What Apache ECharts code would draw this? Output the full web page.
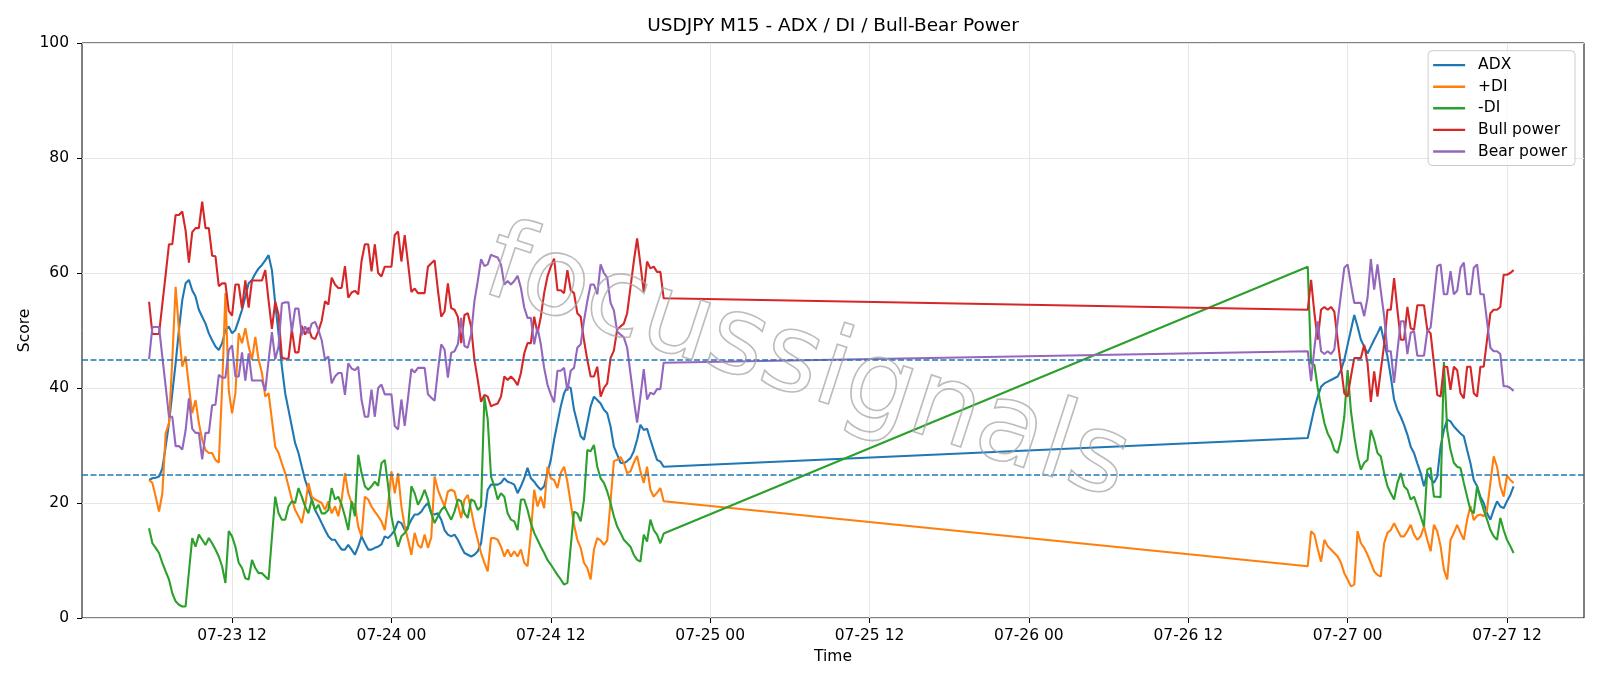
<!DOCTYPE html>
<html lang="en">
<head>
<meta charset="UTF-8" />
<title>USDJPY M15 - ADX / DI / Bull-Bear Power</title>
<style>
  html, body { margin: 0; padding: 0; background: #fff; }
  #main { width: 1600px; height: 686px; }
</style>
</head>
<body>
<div id="main"></div>
<script src="https://cdn.jsdelivr.net/npm/echarts@6/dist/echarts.min.js"></script>
<script>
// M15 bars, two blocks (weekend gap in between): [y, m(0-based), d, h, min]
var segStarts = [[2020, 6, 23, 5, 45], [2020, 6, 26, 21, 0]];
var segLengths = [156, 63];

var adx = [
  24.0, 24.3, 24.4, 24.6, 26.0, 29.8, 33.9, 39.1, 44.3, 50.1,
  55.3, 58.2, 58.8, 57.0, 55.9, 53.6, 52.4, 51.2, 49.5, 48.3,
  47.2, 46.6, 47.8, 50.1, 50.7, 49.5, 50.1, 51.8, 53.6, 55.9,
  58.2, 58.8, 59.9, 60.8, 61.4, 62.2, 63.1, 60.5, 54.7, 49.5,
  43.7, 39.1, 36.2, 33.3, 30.4, 28.7, 26.3, 24.0, 22.3, 20.6,
  18.8, 17.7, 16.5, 15.3, 14.2, 13.6, 13.6, 12.7, 11.9, 11.9,
  12.7, 11.9, 11.0, 12.4, 14.2, 13.0, 11.9, 11.9, 12.2, 12.4,
  12.8, 14.2, 13.9, 14.5, 15.3, 16.8, 16.5, 15.3, 15.9, 17.1,
  18.0, 18.0, 18.5, 19.4, 20.0, 18.2, 18.0, 18.2, 17.1, 15.3,
  14.5, 14.2, 14.5, 13.6, 12.4, 11.3, 11.0, 10.7, 11.0, 11.6,
  13.0, 17.7, 22.3, 23.2, 23.2, 23.2, 23.5, 24.3, 23.7, 23.5,
  23.2, 21.7, 22.9, 24.3, 26.1, 24.3, 23.7, 22.9, 22.3, 22.9,
  25.2, 27.5, 31.0, 33.9, 36.8, 39.1, 40.2, 40.0, 36.2, 33.9,
  31.6, 31.0, 33.9, 36.8, 38.5, 37.9, 37.3, 36.2, 35.6, 33.3,
  29.8, 28.4, 27.0, 26.9, 27.3, 27.8, 29.0, 31.0, 33.6, 32.7,
  32.9, 31.0, 29.2, 27.5, 27.2, 26.3,
  31.3, 33.9, 36.5, 38.5, 40.2, 40.8, 41.1, 41.4, 41.7, 42.0,
  43.1, 44.9, 47.5, 50.1, 52.7, 50.7, 48.4, 47.2, 46.0,
  47.2, 48.4, 49.5, 50.7, 48.0, 45.5, 42.0, 38.0, 36.2, 35.0,
  33.6, 31.9, 29.8, 28.7, 26.9, 25.2, 22.9, 25.2, 24.3, 23.5,
  24.6, 29.8, 32.7, 34.5, 34.2, 33.3, 32.7, 32.1, 31.6, 29.2,
  26.9, 24.0, 22.9, 21.1, 20.0, 18.2, 17.1, 18.8, 20.3, 19.4,
  19.1, 20.3, 21.4, 22.9
];

var plusDI = [
  24.0, 23.5, 21.1, 18.5, 21.7, 32.1, 33.9, 44.9, 57.6, 50.1,
  43.7, 45.5, 40.3, 35.6, 37.9, 33.9, 31.0, 29.2, 28.7, 28.7,
  27.5, 27.0, 40.0, 56.5, 39.6, 35.6, 39.1, 49.5, 47.8, 50.4,
  47.2, 44.9, 48.9, 44.9, 42.6, 38.5, 39.1, 34.5, 29.8, 28.7,
  26.9, 25.2, 22.9, 20.6, 18.8, 17.7, 16.5, 19.4, 23.5, 21.1,
  20.6, 20.3, 20.0, 18.8, 20.3, 18.2, 19.4, 17.7, 20.6, 25.2,
  21.7, 20.0, 19.7, 15.9, 14.2, 21.1, 20.6, 19.4, 18.5, 17.7,
  16.8, 15.3, 19.7, 25.5, 21.7, 25.2, 19.4, 15.9, 13.6, 11.0,
  14.8, 12.7, 12.2, 14.5, 12.2, 14.0, 24.6, 22.3, 20.8, 19.4,
  22.0, 22.3, 22.0, 19.7, 17.4, 20.6, 21.4, 18.8, 15.9, 13.6,
  11.3, 9.6, 8.1, 13.9, 13.9, 13.6, 12.4, 10.7, 11.9, 10.7,
  11.6, 10.7, 11.9, 9.6, 9.0, 14.8, 22.3, 19.4, 21.1, 19.1,
  26.3, 24.3, 24.0, 22.6, 25.2, 26.3, 23.7, 20.0, 16.2, 13.6,
  12.2, 9.6, 8.7, 6.7, 11.9, 13.9, 13.5, 12.7, 13.5, 20.3,
  27.3, 27.5, 28.0, 27.0, 25.2, 25.5, 27.0, 28.2, 25.5, 23.5,
  26.3, 22.3, 21.1, 21.8, 22.6, 20.3,
  9.0, 15.1, 14.5, 12.0, 9.8, 13.6, 12.5, 11.9, 11.3, 10.7,
  9.6, 7.8, 6.7, 5.5, 5.8, 15.1, 13.0, 12.2, 11.0, 9.6,
  8.1, 7.5, 7.2, 13.0, 14.8, 15.3, 16.5, 15.3, 14.2, 14.2,
  15.1, 16.2, 14.5, 13.6, 14.2, 15.9, 13.6, 11.6, 16.2, 15.1,
  12.5, 8.4, 6.7, 13.6, 14.8, 16.2, 14.8, 13.6, 17.1, 19.5,
  17.0, 17.8, 18.0, 17.7, 18.8, 23.5, 28.1, 26.3, 22.9, 21.1,
  24.8, 24.0, 23.5
];

var minusDI = [
  15.6, 13.0, 12.2, 11.3, 9.6, 8.1, 6.7, 4.3, 2.9, 2.3,
  2.0, 2.0, 8.0, 13.9, 12.4, 14.5, 13.6, 12.7, 13.9, 13.0,
  11.9, 10.7, 9.0, 6.1, 15.1, 14.2, 12.4, 9.6, 8.7, 6.9,
  6.7, 10.1, 8.7, 7.8, 7.8, 7.2, 6.7, 14.0, 21.1, 18.2,
  17.1, 17.1, 19.4, 20.3, 20.0, 22.6, 21.1, 19.4, 18.2, 20.6,
  18.8, 19.7, 18.2, 18.2, 18.8, 22.6, 20.6, 21.1, 19.7, 17.7,
  15.3, 20.3, 17.7, 28.4, 25.2, 22.9, 22.3, 22.9, 23.7, 23.0,
  26.9, 27.5, 23.0, 17.7, 14.8, 12.4, 14.2, 14.8, 15.6, 22.9,
  21.7, 19.7, 20.8, 22.3, 20.6, 18.2, 16.5, 17.7, 18.8, 19.4,
  18.2, 17.1, 18.5, 20.6, 20.3, 18.2, 17.4, 20.6, 20.3, 18.8,
  19.4, 38.5, 34.5, 24.6, 22.9, 20.6, 21.7, 21.1, 18.2, 17.1,
  16.8, 15.3, 20.6, 20.6, 18.8, 16.5, 14.8, 13.6, 12.4, 11.3,
  10.1, 9.3, 8.4, 7.5, 6.7, 5.8, 6.1, 12.4, 18.5, 18.2,
  16.8, 20.6, 29.2, 29.0, 30.1, 26.3, 24.3, 23.5, 22.0, 20.0,
  17.7, 15.9, 14.8, 13.6, 13.0, 12.4, 11.0, 10.1, 9.8, 14.5,
  13.3, 17.1, 15.3, 14.5, 13.0, 14.7,
  61.1, 44.3, 44.0, 40.0, 36.8, 33.9, 32.1, 31.0, 29.2, 28.7,
  31.0, 35.0, 43.1, 36.0, 31.6, 28.1, 25.8, 27.0, 27.5, 32.7,
  31.0, 28.7, 28.1, 25.2, 22.9, 21.7, 20.6, 23.5, 25.2, 22.9,
  22.3, 20.6, 21.1, 19.4, 17.7, 15.9, 25.8, 26.1, 21.1, 21.1,
  21.0, 44.5, 32.7, 29.2, 27.0, 26.3, 26.1, 23.5, 21.1, 18.8,
  18.2, 22.9, 20.6, 18.8, 17.1, 15.3, 14.2, 13.6, 17.4, 15.3,
  13.6, 12.5, 11.3
];

var bullPower = [
  55.0, 49.4, 49.4, 49.4, 54.6, 59.7, 65.0, 65.0, 70.1, 70.1,
  70.7, 67.4, 61.8, 67.1, 67.8, 67.8, 72.4, 67.8, 67.8, 63.0,
  62.9, 57.7, 58.2, 58.2, 53.4, 52.6, 58.0, 58.0, 53.8, 58.7,
  54.0, 58.7, 58.7, 58.7, 58.7, 60.5, 55.2, 50.3, 55.0, 52.8,
  45.3, 45.1, 45.1, 50.2, 46.2, 46.2, 50.8, 49.3, 50.5, 48.8,
  48.5, 49.9, 51.7, 55.1, 54.5, 59.2, 58.0, 57.4, 57.4, 61.2,
  55.7, 56.6, 56.9, 56.3, 62.1, 65.0, 65.0, 60.3, 65.0, 60.0,
  59.4, 61.1, 61.1, 61.1, 66.6, 67.2, 62.0, 66.6, 61.7, 56.7,
  57.3, 56.5, 56.5, 56.5, 61.1, 61.7, 62.2, 57.0, 52.4, 53.3,
  58.2, 53.9, 53.6, 52.4, 47.8, 52.7, 53.0, 50.7, 44.9, 41.4,
  37.6, 38.8, 38.5, 36.8, 37.1, 37.3, 38.5, 42.0, 41.4, 42.0,
  41.4, 40.5, 42.6, 46.0, 47.8, 47.8, 52.4, 49.5, 52.4, 56.5,
  59.4, 61.1, 62.5, 57.0, 57.0, 56.5, 60.5, 57.0, 56.5, 53.0,
  52.4, 48.3, 44.9, 42.0, 42.0, 43.7, 38.5, 40.0, 40.8, 45.2,
  46.5, 50.2, 50.7, 51.2, 53.0, 57.5, 62.0, 66.0, 61.5, 56.7,
  62.0, 60.8, 61.1, 60.2, 60.2, 55.6,
  53.6, 58.8, 53.0, 48.4, 53.6, 54.1, 53.6, 54.1, 53.3, 48.4,
  43.7, 39.1, 38.5, 42.0, 45.2, 45.2, 45.2, 47.5, 44.3, 37.6,
  42.9, 38.5, 43.1, 47.5, 53.6, 53.6, 59.1, 53.6, 48.4, 48.4,
  54.1, 50.4, 50.1, 54.4, 54.4, 54.4, 50.1, 49.5, 44.3, 38.8,
  38.5, 43.7, 43.7, 39.7, 43.7, 43.1, 39.1, 38.2, 43.7, 43.7,
  39.1, 38.5, 43.7, 43.7, 48.4, 53.0, 53.6, 53.6, 54.1, 59.7,
  59.7, 60.0, 60.5
];

var bearPower = [
  45.0, 50.6, 50.6, 50.6, 45.4, 40.3, 35.0, 35.0, 29.9, 29.9,
  29.3, 32.6, 38.2, 32.9, 32.2, 32.2, 27.6, 32.2, 32.2, 37.0,
  37.1, 42.3, 41.8, 41.8, 46.6, 47.4, 42.0, 42.0, 46.2, 41.3,
  46.0, 41.3, 41.3, 41.3, 41.3, 39.5, 44.8, 49.7, 45.0, 47.2,
  54.7, 54.9, 54.9, 49.8, 53.8, 53.8, 49.2, 50.7, 49.5, 51.2,
  51.5, 50.1, 48.3, 44.9, 45.5, 40.8, 42.0, 42.6, 42.6, 38.8,
  44.3, 43.4, 43.1, 43.7, 37.9, 35.0, 35.0, 39.7, 35.0, 40.0,
  40.6, 38.9, 38.9, 38.9, 33.4, 32.8, 38.0, 33.4, 38.3, 43.3,
  42.7, 43.5, 43.5, 43.5, 38.9, 38.3, 37.8, 43.0, 47.6, 46.7,
  41.8, 46.1, 46.4, 47.6, 52.2, 47.3, 47.0, 49.3, 55.1, 58.6,
  62.4, 61.2, 61.5, 63.2, 62.9, 62.7, 61.5, 58.0, 58.6, 58.0,
  58.6, 59.5, 57.4, 54.0, 52.2, 52.2, 47.6, 50.5, 47.6, 43.5,
  40.6, 38.9, 37.5, 43.0, 43.0, 43.5, 39.5, 43.0, 43.5, 47.0,
  47.6, 51.7, 55.1, 58.0, 58.0, 56.3, 61.5, 60.0, 59.2, 54.8,
  53.5, 49.8, 49.3, 48.8, 47.0, 42.5, 38.0, 34.0, 38.5, 43.3,
  38.0, 39.2, 38.9, 39.8, 39.8, 44.4,
  46.4, 41.2, 47.0, 51.6, 46.4, 45.9, 46.4, 45.9, 46.7, 51.6,
  56.3, 60.9, 61.5, 58.0, 54.8, 54.8, 54.8, 52.5, 55.7, 62.4,
  57.1, 61.5, 56.9, 52.5, 46.4, 46.4, 40.9, 46.4, 51.6, 51.6,
  45.9, 49.6, 49.9, 45.6, 45.6, 45.6, 49.9, 50.5, 55.7, 61.2,
  61.5, 56.3, 56.3, 60.3, 56.3, 56.9, 60.9, 61.8, 56.3, 56.3,
  60.9, 61.5, 56.3, 56.3, 51.6, 47.0, 46.4, 46.4, 45.9, 40.3,
  40.3, 40.0, 39.5
];

var levels = [25, 45];
// x tick labels every 12 hours
var tickStamps = [
  [2020, 6, 23, 12], [2020, 6, 24, 0], [2020, 6, 24, 12], [2020, 6, 25, 0],
  [2020, 6, 25, 12], [2020, 6, 26, 0], [2020, 6, 26, 12], [2020, 6, 27, 0],
  [2020, 6, 27, 12]
];

var FONT = "'DejaVu Sans', 'Liberation Sans', sans-serif";
var colors = ['#1f77b4', '#ff7f0e', '#2ca02c', '#d62728', '#9467bd'];

// build the time stamps of the bars
var times = [];
segStarts.forEach(function (s, k) {
  var t0 = new Date(s[0], s[1], s[2], s[3], s[4]).getTime();
  for (var n = 0; n < segLengths[k]; n++) {
    times.push(t0 + n * 15 * 60 * 1000);
  }
});
var tickTimes = tickStamps.map(function (t) {
  return new Date(t[0], t[1], t[2], t[3], 0).getTime();
});

function pairs(vals) {
  return vals.map(function (v, i) { return [times[i], v]; });
}
function pad(n) { return (n < 10 ? '0' : '') + n; }

function lineSeries(name, vals, color) {
  return {
    name: name,
    type: 'line',
    data: pairs(vals),
    symbol: 'none',
    showSymbol: false,
    lineStyle: { color: color, width: 2.1 },
    itemStyle: { color: color },
    animation: false,
    silent: true
  };
}

var myChart = echarts.init(document.getElementById('main'), null, { renderer: 'canvas' });

var option = {
  backgroundColor: '#ffffff',
  animation: false,
  title: {
    text: 'USDJPY M15 - ADX / DI / Bull-Bear Power',
    left: 833,
    top: 17,
    padding: 0,
    textAlign: 'center',
    textStyle: { fontFamily: FONT, fontSize: 18.5, fontWeight: 'normal', color: '#000' }
  },
  grid: {
    left: 82, right: 16, top: 43, bottom: 68,
    show: true, borderColor: '#000', borderWidth: 1, backgroundColor: 'transparent'
  },
  legend: {
    orient: 'vertical',
    right: 25,
    top: 50.7,
    icon: 'rect',
    itemWidth: 32,
    itemHeight: 2.4,
    itemGap: 5.6,
    padding: [6.4, 8, 6, 5],
    backgroundColor: 'rgba(255,255,255,0.8)',
    borderColor: '#cccccc',
    borderWidth: 1,
    borderRadius: 4,
    textStyle: { fontFamily: FONT, fontSize: 15.5, lineHeight: 14, color: '#000', padding: [0, 0, 0, 8] },
    data: ['ADX', '+DI', '-DI', 'Bull power', 'Bear power']
  },
  xAxis: {
    type: 'value',
    min: new Date(2020, 6, 23, 0, 42).getTime(),
    max: new Date(2020, 6, 27, 17, 48).getTime(),
    name: 'Time',
    nameLocation: 'middle',
    nameGap: 30,
    nameTextStyle: { fontFamily: FONT, fontSize: 15.5, color: '#000' },
    axisLine: { show: false },
    axisTick: { show: true, inside: false, length: 5, customValues: tickTimes, lineStyle: { color: '#000' } },
    axisLabel: {
      customValues: tickTimes,
      margin: 10,
      fontFamily: FONT, fontSize: 15.5, color: '#000',
      formatter: function (v) {
        var d = new Date(v);
        return pad(d.getMonth() + 1) + '-' + pad(d.getDate()) + ' ' + pad(d.getHours());
      }
    },
    splitLine: { show: true, lineStyle: { color: '#e6e6e6', width: 1 } }
  },
  yAxis: {
    type: 'value',
    min: 0,
    max: 100,
    interval: 20,
    name: 'Score',
    nameLocation: 'middle',
    nameMoveOverlap: false,
    nameGap: 49,
    nameTextStyle: { fontFamily: FONT, fontSize: 15.5, color: '#000' },
    axisLine: { show: false },
    axisTick: { show: true, inside: false, length: 5, lineStyle: { color: '#000' } },
    axisLabel: { margin: 13, fontFamily: FONT, fontSize: 15.5, color: '#000' },
    splitLine: { show: true, lineStyle: { color: '#e6e6e6', width: 1 } }
  },
  graphic: [{
    // hollow watermark text
    type: 'text',
    x: 806,
    y: 367,
    rotation: -18 * Math.PI / 180,
    z: 100,
    silent: true,
    style: {
      text: 'focussignals',
      fontFamily: FONT,
      fontSize: 109,
      fill: 'rgba(255,255,255,0)',
      stroke: 'rgba(165,165,165,0.75)',
      lineWidth: 1.6,
      align: 'center',
      verticalAlign: 'middle',
      shadowColor: 'rgba(120,120,120,0.35)',
      shadowOffsetX: 2,
      shadowOffsetY: 2,
      shadowBlur: 1
    }
  }],
  series: [
    lineSeries('ADX', adx, colors[0]),
    lineSeries('+DI', plusDI, colors[1]),
    lineSeries('-DI', minusDI, colors[2]),
    lineSeries('Bull power', bullPower, colors[3]),
    lineSeries('Bear power', bearPower, colors[4]),
    {
      name: 'levels',
      type: 'line',
      data: [],
      silent: true,
      animation: false,
      markLine: {
        silent: true,
        animation: false,
        symbol: ['none', 'none'],
        label: { show: false },
        lineStyle: { color: '#1f77b4', width: 1.5, type: [6, 2.5] },
        data: levels.map(function (l) { return { yAxis: l }; })
      }
    }
  ]
};
myChart.setOption(option);
</script>
</body>
</html>
